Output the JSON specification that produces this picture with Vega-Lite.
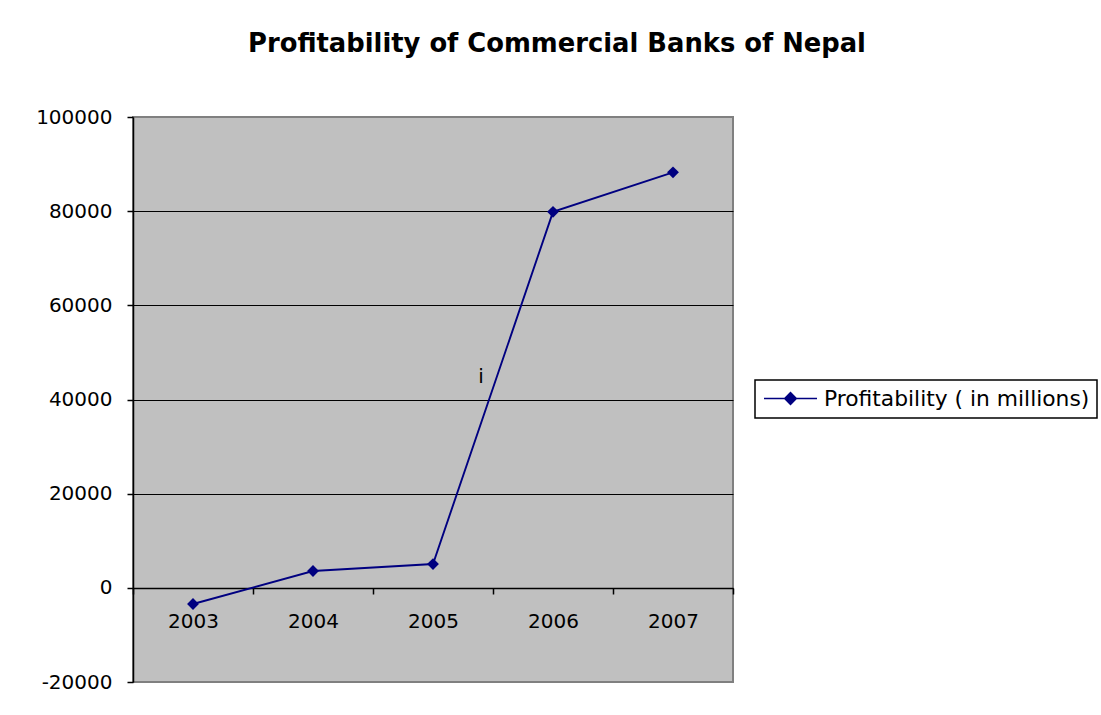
{
  "$schema": "https://vega.github.io/schema/vega-lite/v6.json",
  "autosize": {"type": "none"},
  "width": 600,
  "height": 565,
  "padding": {"left": 133, "top": 117, "right": 368, "bottom": 33},
  "background": "white",
  "title": {
    "text": "Profitability of Commercial Banks of Nepal",
    "font": "DejaVu Sans",
    "fontSize": 25.8,
    "fontWeight": "bold",
    "color": "black",
    "anchor": "middle",
    "frame": "group",
    "dx": 124,
    "baseline": "alphabetic",
    "offset": 29
  },
  "data": {
    "values": [
      {"year": "2003", "profit": -3440},
      {"year": "2004", "profit": 3570},
      {"year": "2005", "profit": 5050},
      {"year": "2006", "profit": 79850},
      {"year": "2007", "profit": 88250}
    ]
  },
  "encoding": {
    "x": {
      "field": "year",
      "type": "ordinal",
      "scale": {"paddingInner": 0, "paddingOuter": 0},
      "axis": {
        "title": null,
        "orient": "bottom",
        "offset": -94,
        "tickBand": "extent",
        "labelAngle": 0,
        "labelFont": "DejaVu Sans",
        "labelFontSize": 20,
        "labelColor": "black",
        "labelPadding": 17,
        "tickSize": 6,
        "tickColor": "black",
        "tickWidth": 1.5,
        "domainColor": "black",
        "domainWidth": 1.5,
        "grid": false
      }
    },
    "y": {
      "field": "profit",
      "type": "quantitative",
      "scale": {"domain": [-20000, 100000], "nice": false, "zero": false},
      "axis": {
        "title": null,
        "values": [-20000, 0, 20000, 40000, 60000, 80000, 100000],
        "labelExpr": "'' + datum.value",
        "labelFont": "DejaVu Sans",
        "labelFontSize": 20,
        "labelColor": "black",
        "labelPadding": 15,
        "tickSize": 6,
        "tickColor": "black",
        "tickWidth": 1.5,
        "domainColor": "black",
        "domainWidth": 1.5,
        "grid": true,
        "gridColor": {
          "condition": {"test": "datum.value == 100000 || datum.value == -20000", "value": "#808080"},
          "value": "black"
        },
        "gridWidth": 1.2,
        "gridOpacity": 1
      }
    }
  },
  "layer": [
    {
      "mark": {"type": "line", "strokeWidth": 1.9},
      "encoding": {
        "color": {
          "datum": "Profitability ( in millions)",
          "type": "nominal",
          "scale": {"range": ["#000080"]},
          "legend": {
            "orient": "none",
            "legendX": 622,
            "legendY": 263,
            "title": null,
            "strokeColor": "black",
            "fillColor": "white",
            "padding": 7,
            "labelFont": "DejaVu Sans",
            "labelFontSize": 21.8,
            "labelColor": "black",
            "labelOffset": 22,
            "labelLimit": 400,
            "symbolOffset": 17,
            "symbolType": "M-2.5,0H2.5M-0.55,0L0,-0.55L0.55,0L0,0.55Z",
            "symbolSize": 449,
            "symbolStrokeWidth": 1.5,
            "symbolFillColor": "#000080",
            "symbolStrokeColor": "#000080",
            "encode": {
              "legend": {
                "update": {
                  "strokeWidth": {"value": 1.5}
                }
              },
              "symbols": {
                "update": {
                  "fill": {"value": "#000080"},
                  "stroke": {"value": "#000080"},
                  "shape": {"value": "M-2.5,0H2.5M-0.55,0L0,-0.55L0.55,0L0,0.55Z"},
                  "size": {"value": 449},
                  "strokeWidth": {"value": 1.5},
                  "opacity": {"value": 1}
                }
              }
            }
          }
        }
      }
    },
    {
      "mark": {"type": "point", "shape": "diamond", "filled": true, "size": 140, "color": "#000080", "opacity": 1}
    },
    {
      "data": {"values": [{"year": "2005", "profit": 43540, "note": "i"}]},
      "mark": {"type": "text", "font": "DejaVu Sans", "fontSize": 20, "color": "black", "baseline": "alphabetic", "align": "center", "dx": 48},
      "encoding": {
        "text": {"field": "note", "type": "nominal"}
      }
    }
  ],
  "config": {
    "view": {"fill": "#C0C0C0", "stroke": "#808080", "strokeWidth": 2}
  }
}
